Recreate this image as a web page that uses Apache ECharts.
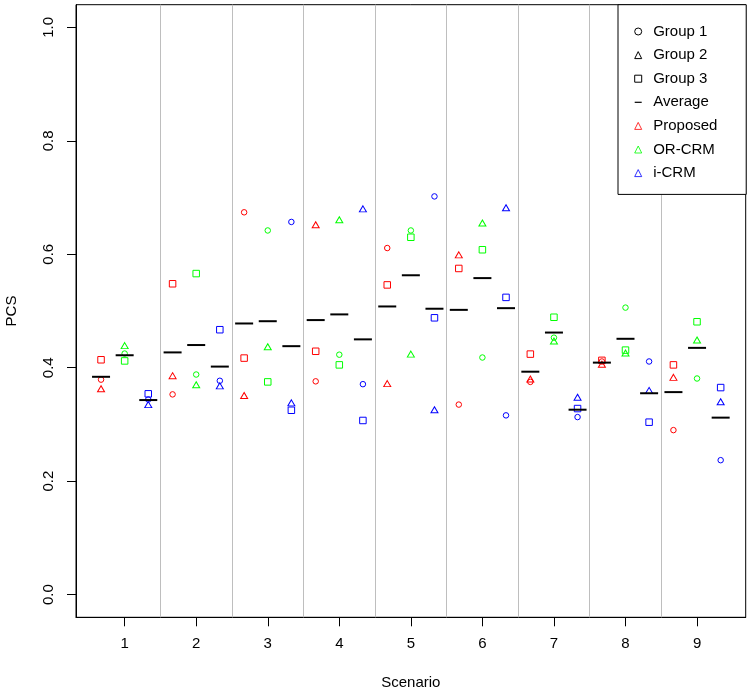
<!DOCTYPE html>
<html><head><meta charset="utf-8">
<script src="https://cdn.jsdelivr.net/npm/echarts@6/dist/echarts.min.js"></script>
<style>html,body{margin:0;padding:0;background:#fff}#c{width:750px;height:694px}</style>
</head><body><div id="c"></div>
<script>
// ---- data ----
const scenarios = [1, 2, 3, 4, 5, 6, 7, 8, 9];
const methods = ['Proposed', 'OR-CRM', 'i-CRM'];
const groups = ['Group 1', 'Group 2', 'Group 3'];
const yTicks = [0, 0.2, 0.4, 0.6, 0.8, 1.0];

const proposedG1 = [0.379, 0.353, 0.674, 0.376, 0.611, 0.335, 0.375, 0.411, 0.290];
const proposedG2 = [0.363, 0.386, 0.351, 0.652, 0.372, 0.599, 0.380, 0.406, 0.383];
const proposedG3 = [0.414, 0.548, 0.417, 0.429, 0.546, 0.575, 0.424, 0.413, 0.405];
const proposedAvg = [0.384, 0.427, 0.478, 0.484, 0.508, 0.502, 0.393, 0.409, 0.357];

const orcrmG1 = [0.425, 0.388, 0.642, 0.423, 0.642, 0.418, 0.453, 0.506, 0.381];
const orcrmG2 = [0.439, 0.370, 0.437, 0.661, 0.424, 0.655, 0.447, 0.426, 0.449];
const orcrmG3 = [0.412, 0.566, 0.375, 0.405, 0.630, 0.608, 0.489, 0.431, 0.481];
const orcrmAvg = [0.422, 0.440, 0.482, 0.494, 0.563, 0.558, 0.462, 0.451, 0.435];

const icrmG1 = [0.344, 0.377, 0.657, 0.371, 0.702, 0.316, 0.313, 0.411, 0.237];
const icrmG2 = [0.335, 0.368, 0.338, 0.680, 0.326, 0.682, 0.348, 0.360, 0.340];
const icrmG3 = [0.354, 0.467, 0.325, 0.307, 0.488, 0.524, 0.328, 0.304, 0.365];
const icrmAvg = [0.343, 0.402, 0.438, 0.450, 0.504, 0.505, 0.326, 0.355, 0.312];

// ---- layout / style ----
const FONT = '"Liberation Sans", Arial, sans-serif';
const methodOffset = [-0.33, 0, 0.33];
const methodColor = ['#FF0000', '#00FF00', '#0000FF'];
const groupSymbol = ['circle', 'triangle', 'rect'];
const groupSize = [5.5, [7, 6], 6.5];
const methodGroups = [
  [proposedG1, proposedG2, proposedG3],
  [orcrmG1, orcrmG2, orcrmG3],
  [icrmG1, icrmG2, icrmG3]
];
const methodAvg = [proposedAvg, orcrmAvg, icrmAvg];

const series = [];
// separators between scenarios
series.push({
  type: 'scatter', name: '_sep', data: [], silent: true,
  markLine: {
    silent: true, symbol: ['none', 'none'], label: { show: false },
    lineStyle: { color: '#BEBEBE', width: 1, type: 'solid' },
    emphasis: { disabled: true },
    data: scenarios.slice(1).map(s => ({ xAxis: s - 0.5 }))
  }
});
groups.forEach((g, gi) => {
  const data = [];
  methods.forEach((m, mi) => {
    scenarios.forEach((s, si) => {
      data.push({ value: [s + methodOffset[mi], methodGroups[mi][gi][si]],
                  itemStyle: { borderColor: methodColor[mi] } });
    });
  });
  series.push({
    type: 'scatter', name: g, symbol: groupSymbol[gi], symbolSize: groupSize[gi],
    itemStyle: { color: 'rgba(0,0,0,0)', borderColor: '#000', borderWidth: 1, opacity: 1 },
    emphasis: { disabled: true }, data, z: 3
  });
});
{
  const data = [];
  methods.forEach((m, mi) => {
    scenarios.forEach((s, si) => data.push([s + methodOffset[mi], methodAvg[mi][si]]));
  });
  series.push({
    type: 'scatter', name: 'Average', symbol: 'rect', symbolSize: [18, 2],
    itemStyle: { color: '#000', borderWidth: 0, opacity: 1 },
    emphasis: { disabled: true }, data, z: 4
  });
}
methods.forEach((m, mi) => {
  series.push({
    type: 'scatter', name: m, symbol: 'triangle', symbolSize: [7, 6], data: [],
    itemStyle: { color: 'rgba(0,0,0,0)', borderColor: methodColor[mi], borderWidth: 1 }
  });
});

const chart = echarts.init(document.getElementById('c'), null, { renderer: 'canvas' });
chart.setOption({
  animation: false,
  backgroundColor: '#fff',
  grid: { left: 76, right: 4.3, top: 4.7, bottom: 76.7, show: true, borderColor: '#000', borderWidth: 1,
          backgroundColor: 'rgba(0,0,0,0)', containLabel: false, outerBoundsMode: 'none' },
  xAxis: {
    type: 'value', min: 0.32, max: 9.68, position: 'bottom',
    name: 'Scenario', nameLocation: 'middle', nameGap: 58,
    nameTextStyle: { fontFamily: FONT, fontSize: 15, color: '#000' },
    axisLine: { show: true, onZero: false, lineStyle: { color: '#000', width: 1 } },
    axisTick: { show: true, inside: false, length: 9, lineStyle: { color: '#000', width: 1 }, customValues: scenarios },
    axisLabel: { show: true, margin: 19, fontFamily: FONT, fontSize: 15, color: '#000', customValues: scenarios,
                 formatter: v => String(v) },
    splitLine: { show: false }
  },
  yAxis: {
    type: 'value', min: -0.04, max: 1.04, position: 'left',
    name: 'PCS', nameLocation: 'middle', nameGap: 57, nameRotate: 90,
    nameTextStyle: { fontFamily: FONT, fontSize: 15, color: '#000' },
    axisLine: { show: true, lineStyle: { color: '#000', width: 1 } },
    axisTick: { show: true, inside: false, length: 9, lineStyle: { color: '#000', width: 1 }, customValues: yTicks },
    axisLabel: { show: true, margin: 20, rotate: 90, fontFamily: FONT, fontSize: 15, color: '#000',
                 customValues: yTicks, formatter: v => v.toFixed(1) },
    splitLine: { show: false }
  },
  legend: {
    orient: 'vertical', left: 618, top: 4.7,
    padding: [18.8, 28.8, 13.3, 16.2],
    itemWidth: 7, itemHeight: 7, itemGap: 7.6,
    backgroundColor: '#fff', borderColor: '#000', borderWidth: 1, borderRadius: 0,
    selectedMode: false, z: 10,
    itemStyle: { borderWidth: 1 },
    textStyle: { fontFamily: FONT, fontSize: 15, color: '#000', lineHeight: 16, padding: [0, 0, 0, 6.5] },
    data: [
      { name: 'Group 1' }, { name: 'Group 2' }, { name: 'Group 3' },
      { name: 'Average', icon: 'path://M0,0H7V1.2H0Z', itemStyle: { borderWidth: 0 } },
      { name: 'Proposed' }, { name: 'OR-CRM' }, { name: 'i-CRM' }
    ]
  },
  series
});
</script></body></html>
